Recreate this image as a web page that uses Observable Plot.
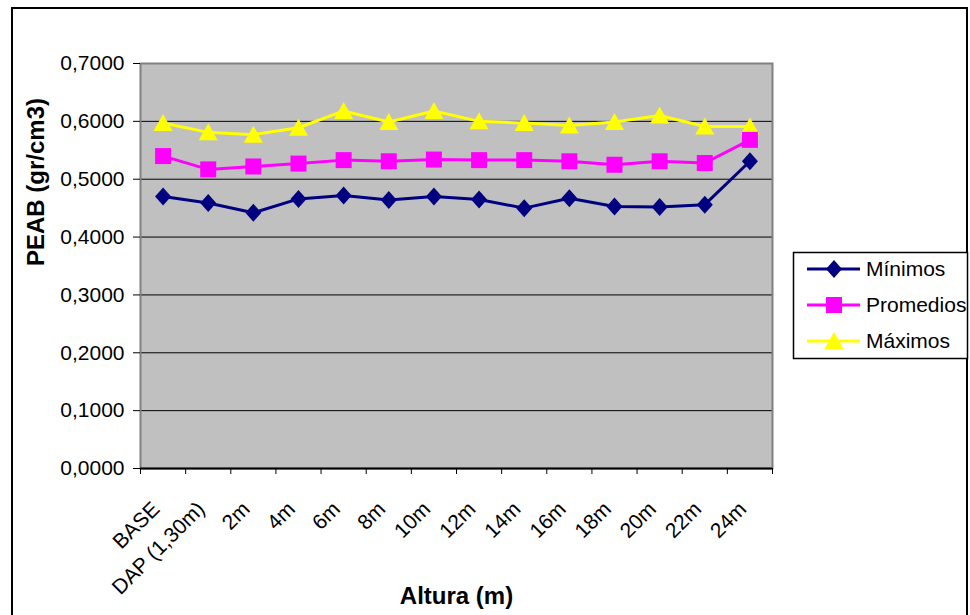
<!DOCTYPE html>
<html>
<head>
<meta charset="utf-8">
<script src="https://cdn.jsdelivr.net/npm/d3@7"></script>
<script src="https://cdn.jsdelivr.net/npm/@observablehq/plot@0.6"></script>
<style>
  body { margin: 0; background: #fff; }
  #chart svg { display: block; }
</style>
</head>
<body>
<div id="chart"></div>
<script>
// Alturas de muestreo a lo largo del fuste
const alturas = ["BASE", "DAP (1,30m)", "2m", "4m", "6m", "8m", "10m", "12m", "14m", "16m", "18m", "20m", "22m", "24m"];
// Series de peso específico aparente básico (gr/cm3)
const series = ["Mínimos", "Promedios", "Máximos"];
const minimos   = [0.470, 0.459, 0.442, 0.466, 0.472, 0.464, 0.470, 0.465, 0.450, 0.467, 0.453, 0.452, 0.456, 0.531];
const promedios = [0.540, 0.517, 0.522, 0.527, 0.533, 0.531, 0.534, 0.533, 0.533, 0.531, 0.525, 0.531, 0.528, 0.568];
const maximos   = [0.597, 0.581, 0.577, 0.589, 0.618, 0.599, 0.618, 0.600, 0.597, 0.593, 0.599, 0.610, 0.591, 0.591];
const colores = ["#000080", "#FF00FF", "#FFFF00"];
const yTicks = [0, 0.1, 0.2, 0.3, 0.4, 0.5, 0.6, 0.7];

const FONT = "'Liberation Sans', Arial, Helvetica, sans-serif";

// Marcadores estilo hoja de cálculo
const rombo = { draw(ctx) { ctx.moveTo(0, -9); ctx.lineTo(8, 0); ctx.lineTo(0, 9); ctx.lineTo(-8, 0); ctx.closePath(); } };
const cuadrado = { draw(ctx) { ctx.moveTo(-8, -8); ctx.lineTo(8, -8); ctx.lineTo(8, 8); ctx.lineTo(-8, 8); ctx.closePath(); } };
const triangulo = { draw(ctx) { ctx.moveTo(0, -9); ctx.lineTo(9.5, 8); ctx.lineTo(-9.5, 8); ctx.closePath(); } };
const simbolos = [rombo, cuadrado, triangulo];

const valores = [minimos, promedios, maximos];
const datos = series.map((s, k) => alturas.map((a, i) => ({ serie: s, altura: a, i: i + 0.5, valor: valores[k][i] })));

const fmt = d => d.toFixed(4).replace(".", ",");

const lineas = [2, 1, 0].map(k => Plot.line(datos[k], { x: "i", y: "valor", stroke: colores[k], strokeWidth: 3 }));
const puntos = [2, 1, 0].map(k => Plot.dot(datos[k], { x: "i", y: "valor", symbol: simbolos[k], fill: colores[k], stroke: "none", r: 8 }));

const chart = Plot.plot({
  width: 970,
  height: 615,
  marginLeft: 140,
  marginRight: 198,
  marginTop: 63,
  marginBottom: 147,
  style: { fontFamily: FONT, color: "#000", background: "transparent" },
  x: { domain: [0, alturas.length] },
  y: { domain: [0, 0.7] },
  marks: [
    Plot.frame({ fill: "#C0C0C0" }),
    Plot.ruleY(yTicks.filter(v => v > 0 && v < 0.7), { stroke: "#000", strokeWidth: 1 }),
    Plot.frame({ stroke: "#808080", strokeWidth: 2 }),
    Plot.ruleY([0], { stroke: "#000", strokeWidth: 2 }),
    Plot.axisY({ ticks: yTicks, tickFormat: fmt, tickSize: 7, tickPadding: 9, fontSize: 21, label: null }),
    Plot.axisX({ ticks: d3.range(alturas.length + 1), tickFormat: () => "", tickSize: 6, label: null }),
    ...lineas,
    ...puntos,
    Plot.text(alturas, {
      x: (d, i) => i + 0.5, text: d => d, frameAnchor: "bottom",
      rotate: -45, textAnchor: "end", lineAnchor: "middle",
      dx: -7, dy: 37, fontSize: 21
    }),
    Plot.text(["PEAB (gr/cm3)"], {
      text: d => d, frameAnchor: "left", rotate: -90, lineAnchor: "middle",
      dx: -104, fontSize: 24, fontWeight: "bold"
    }),
    Plot.text(["Altura (m)"], {
      text: d => d, frameAnchor: "bottom", lineAnchor: "middle",
      dy: 128, fontSize: 24, fontWeight: "bold"
    })
  ]
});

const svg = d3.select(chart);

// Borde exterior del gráfico
svg.append("rect")
  .attr("x", 12).attr("y", 8).attr("width", 955).attr("height", 700)
  .attr("fill", "none").attr("stroke", "#000").attr("stroke-width", 2);

// Leyenda
const leyenda = svg.append("g")
  .attr("font-family", FONT).attr("font-size", 21).attr("text-anchor", "start");
leyenda.append("rect")
  .attr("x", 793.5).attr("y", 252.5).attr("width", 174).attr("height", 106)
  .attr("fill", "#fff").attr("stroke", "#000").attr("stroke-width", 1.5);
series.forEach((s, k) => {
  const y = 269 + k * 36;
  const fila = leyenda.append("g").attr("transform", `translate(0,${y})`);
  fila.append("line").attr("x1", 807).attr("x2", 860).attr("y1", 0).attr("y2", 0)
    .attr("stroke", colores[k]).attr("stroke-width", 3);
  fila.append("path").attr("transform", "translate(834,0)")
    .attr("d", d3.symbol(simbolos[k], 64)()).attr("fill", colores[k]);
  fila.append("text").attr("x", 866).attr("y", 0).attr("dy", "0.35em")
    .attr("text-anchor", "start").text(s);
});

document.getElementById("chart").appendChild(chart);
</script>
</body>
</html>
